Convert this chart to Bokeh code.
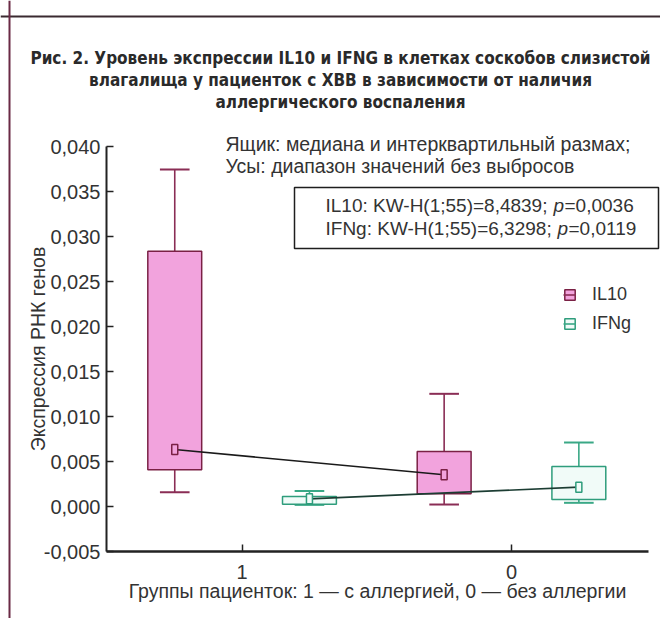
from bokeh.plotting import figure
from bokeh.models import (Range1d, LinearAxis, FixedTicker, Label, Span,
                          BoxAnnotation, Legend, LegendItem, ColumnDataSource)
from bokeh.embed import file_html
from bokeh.resources import INLINE

# ---------------- data ----------------
groups = ["1", "0"]
group_pos = [0, 1]

il10_low = [0.00159, 0.00022]
il10_q1 = [0.00407, 0.00141]
il10_med = [0.00633, 0.00352]
il10_q3 = [0.02837, 0.00611]
il10_high = [0.03744, 0.01252]

ifng_low = [0.00018, 0.00041]
ifng_q1 = [0.00025, 0.00078]
ifng_med = [0.00085, 0.00215]
ifng_q3 = [0.00111, 0.00444]
ifng_high = [0.00172, 0.00711]

y_ticks = [-0.005, 0.0, 0.005, 0.01, 0.015, 0.02, 0.025, 0.03, 0.035, 0.04]
y_tick_labels = ["-0,005", "0,000", "0,005", "0,010", "0,015", "0,020",
                 "0,025", "0,030", "0,035", "0,040"]

title_lines = ["Рис. 2. Уровень экспрессии IL10 и IFNG в клетках соскобов слизистой",
               "влагалища у пациенток с ХВВ в зависимости от наличия",
               "аллергического воспаления"]
note_lines = ["Ящик: медиана и интерквартильный размах;",
              "Усы: диапазон значений без выбросов"]
stat_lines = [("IL10: KW-H(1;55)=8,4839; ", "p", "=0,0036"),
              ("IFNg: KW-H(1;55)=6,3298; ", "p", "=0,0119")]
series_names = ["IL10", "IFNg"]

# ---------------- layout helpers ----------------
W, H = 660, 618
CX1, PPX = 241.6, 269.4      # screen x of group "1", px per group unit
CY0, PPY = 506.0, 9000.0     # screen y of 0, px per unit


def px(X):
    return (X - CX1) / PPX


def py(Y):
    return (CY0 - Y) / PPY


OFF = 0.25
BOX_W = 0.2
CAP_W = 0.11

FONT = "Liberation Sans"
TFONT = "DejaVu Sans Condensed"
TXT = "#333333"

p = figure(width=W, height=H,
           x_range=Range1d(px(0), px(W)), y_range=Range1d(py(H), py(0)),
           x_axis_location=None, y_axis_location=None,
           toolbar_location=None, output_backend="svg", min_border=0,
           outline_line_color=None, background_fill_color="white",
           border_fill_color="white")
p.grid.visible = False

# axes
yaxis = LinearAxis(fixed_location=px(106), bounds=(y_ticks[0], y_ticks[-1]),
                   ticker=FixedTicker(ticks=y_ticks),
                   major_label_overrides=dict(zip(y_ticks, y_tick_labels)),
                   axis_label="Экспрессия РНК генов")
yaxis.major_tick_in = 7
yaxis.major_tick_out = 0
yaxis.minor_tick_line_color = None
yaxis.axis_line_width = 2
yaxis.axis_line_color = "#222222"
yaxis.major_tick_line_color = "#222222"
yaxis.major_tick_line_width = 1.5
yaxis.major_label_text_font = FONT
yaxis.major_label_text_font_size = "20px"
yaxis.major_label_text_color = TXT
yaxis.major_label_standoff = 6
yaxis.axis_label_text_font = FONT
yaxis.axis_label_text_font_size = "19.5px"
yaxis.axis_label_text_font_style = "normal"
yaxis.axis_label_text_color = TXT
yaxis.axis_label_standoff = -8
p.add_layout(yaxis, "left")

xaxis = LinearAxis(fixed_location=y_ticks[0], bounds=(px(106), px(648)),
                   ticker=FixedTicker(ticks=group_pos),
                   major_label_overrides=dict(zip(group_pos, groups)),
                   axis_label="Группы пациенток: 1 — с аллергией, 0 — без аллергии")
xaxis.major_tick_in = 7
xaxis.major_tick_out = 0
xaxis.minor_tick_line_color = None
xaxis.axis_line_width = 2.5
xaxis.axis_line_color = "#222222"
xaxis.major_tick_line_color = "#222222"
xaxis.major_tick_line_width = 1.5
xaxis.major_label_text_font = FONT
xaxis.major_label_text_font_size = "20px"
xaxis.major_label_text_color = TXT
xaxis.major_label_standoff = 13
xaxis.axis_label_text_font = FONT
xaxis.axis_label_text_font_size = "19.5px"
xaxis.axis_label_text_font_style = "normal"
xaxis.axis_label_text_color = TXT
xaxis.axis_label_standoff = -2
p.add_layout(xaxis, "below")

# frame lines of the figure panel
p.add_layout(Span(location=py(16), dimension="width", line_color="#3a2a30", line_width=2))
p.add_layout(Span(location=px(9), dimension="height", line_color="#6a2a45", line_width=2))

styles = [
    dict(name="IL10", off=-OFF, low=il10_low, q1=il10_q1, med=il10_med, q3=il10_q3, high=il10_high,
         fill="#f2a3dd", line="#7a2145", whisk="#8a2d55", link="#1a1a1a"),
    dict(name="IFNg", off=OFF, low=ifng_low, q1=ifng_q1, med=ifng_med, q3=ifng_q3, high=ifng_high,
         fill="#f1fbf8", line="#2f9d7c", whisk="#3aa886", link="#1c3d33"),
]

legend_items = []
for s in styles:
    xs = [g + s["off"] for g in group_pos]
    src = ColumnDataSource(dict(x=xs, low=s["low"], q1=s["q1"], med=s["med"], q3=s["q3"],
                                high=s["high"],
                                cl=[x - CAP_W / 2 for x in xs], cr=[x + CAP_W / 2 for x in xs]))
    stem_hi = p.segment(x0="x", y0="q3", x1="x", y1="high", source=src,
                        line_color=s["whisk"], line_width=1.6)
    p.segment(x0="x", y0="low", x1="x", y1="q1", source=src, line_color=s["whisk"], line_width=1.6)
    p.segment(x0="cl", y0="high", x1="cr", y1="high", source=src, line_color=s["whisk"], line_width=2)
    p.segment(x0="cl", y0="low", x1="cr", y1="low", source=src, line_color=s["whisk"], line_width=2)
    box = p.vbar(x="x", width=BOX_W, bottom="q1", top="q3", source=src,
                 fill_color=s["fill"], line_color=s["line"], line_width=1.5)
    s["src"] = src
    s["box"] = box
    s["stem"] = stem_hi

for s in styles:
    p.line(x="x", y="med", source=s["src"], line_color=s["link"], line_width=1.6)
for s in styles:
    p.rect(x="x", y="med", width=6, height=10, width_units="screen", height_units="screen",
           source=s["src"], fill_color=s["fill"], line_color=s["line"], line_width=1.5)
    legend_items.append(LegendItem(label=s["name"], renderers=[s["box"], s["stem"]]))

legend = Legend(items=legend_items, location=(563, H - 334), orientation="vertical",
                glyph_width=13, glyph_height=13, label_height=20, spacing=8,
                label_standoff=16, padding=0, margin=0,
                border_line_color=None, background_fill_alpha=0,
                label_text_font=FONT, label_text_font_size="18px",
                label_text_color=TXT)
p.add_layout(legend)

# title
for line, Y in zip(title_lines, [57, 79, 101]):
    p.add_layout(Label(x=px(340), y=py(Y), text=line, text_align="center",
                       text_baseline="middle", text_font=TFONT,
                       text_font_size="17px", text_font_style="bold",
                       text_color="#2a2a2a"))

# notes
for line, Y in zip(note_lines, [143, 165]):
    p.add_layout(Label(x=px(225), y=py(Y), text=line, text_align="left",
                       text_baseline="middle", text_font=FONT,
                       text_font_size="19.5px", text_color=TXT))

# stats box
p.add_layout(BoxAnnotation(left=px(294), right=px(658), top=py(187), bottom=py(248),
                           fill_alpha=0, line_color="#1e1e1e", line_alpha=1.0,
                           line_width=1.5))
for (a, b, c), Y, xp, xc in zip(stat_lines, [205, 228], [553, 557], [564, 568]):
    p.add_layout(Label(x=px(325), y=py(Y), text=a, text_align="left",
                       text_baseline="middle", text_font=FONT,
                       text_font_size="19px", text_color=TXT))
    p.add_layout(Label(x=px(xp), y=py(Y), text=b, text_align="left",
                       text_baseline="middle", text_font=FONT,
                       text_font_size="19px", text_font_style="italic",
                       text_color=TXT))
    p.add_layout(Label(x=px(xc), y=py(Y), text=c, text_align="left",
                       text_baseline="middle", text_font=FONT,
                       text_font_size="19px", text_color=TXT))

open("out.html", "w").write(file_html(p, INLINE))
